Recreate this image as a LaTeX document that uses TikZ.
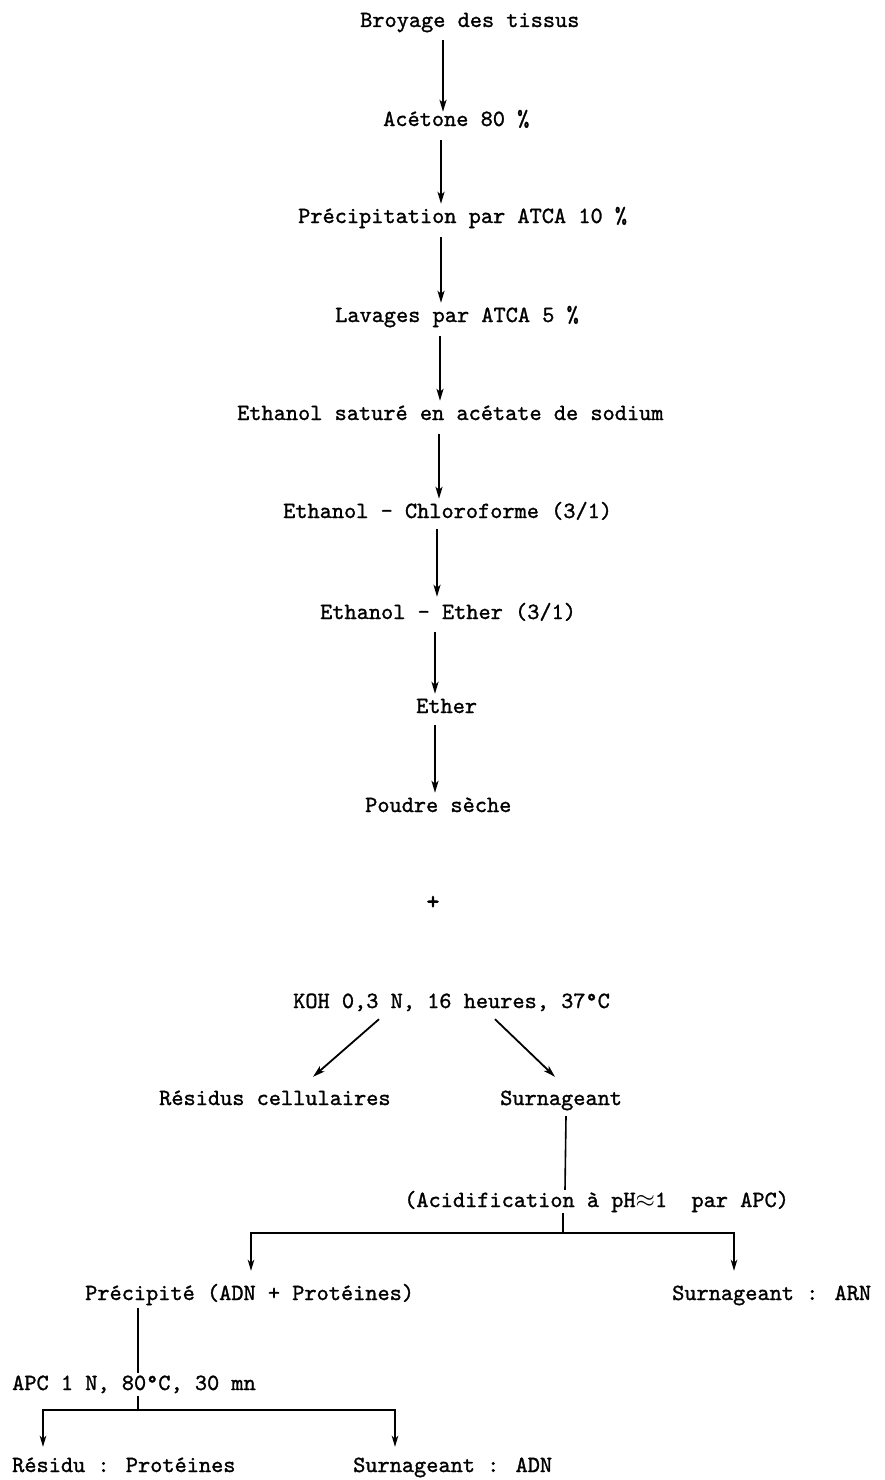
\documentclass[tikz,border=0pt]{standalone}
\usepackage{fontspec}
\newfontfamily\tw{lmmono10-regular.otf}[FakeBold=1.2]
\newfontfamily\twb{lmmono10-regular.otf}[FakeBold=3]
\usetikzlibrary{arrows.meta,calc}
\begin{document}
\begin{tikzpicture}[x=1pt,y=-1pt,
  lbl/.style={anchor=west,inner sep=0pt,text height=14pt,text depth=4pt,
    font=\tw\fontsize{23.2}{26}\selectfont},
  arr/.style={line width=1.8pt,-{Stealth[length=12pt,width=7pt,inset=3pt]},
    shorten <=10pt,shorten >=5pt},
  arrb/.style={line width=1.5pt,-{Stealth[length=11pt,width=6.5pt,inset=3pt]},
    shorten <=0pt},
  ln/.style={line width=1.6pt}]
\fill[white] (0,0) rectangle (884,1480);
\useasboundingbox (0,0) rectangle (884,1480);

% main sequence
\node[lbl] (n1) at (360,22) {Broyage des tissus};
\node[lbl] (n2) at (383,121) {Acétone 80 \%};
\node[lbl] (n3) at (298,218) {Précipitation par ATCA 10 \%};
\node[lbl] (n4) at (335,317) {Lavages par ATCA 5 \%};
\node[lbl] (n5) at (237,415) {Ethanol saturé en acétate de sodium};
\node[lbl] (n6) at (283,513) {Ethanol - Chloroforme (3/1)};
\node[lbl] (n7) at (320,614) {Ethanol - Ether (3/1)};
\node[lbl] (n8) at (416,708) {Ether};
\node[lbl] (n9) at (365,807) {Poudre sèche};
\node[lbl,anchor=center,font=\twb\fontsize{24}{26}\selectfont] (plus) at (433,904) {+};
\node[lbl] (koh) at (293,1003) {KOH 0,3 N, 16 heures, 37°C};
\node[lbl] (res) at (159,1100) {Résidus cellulaires};
\node[lbl] (sur) at (500,1100) {Surnageant};
\node[lbl] (acid) at (404,1202) {(Acidification à pH$\approx$1~~par APC)};
\node[lbl] (prec) at (85,1295) {Précipité (ADN + Protéines)};
\node[lbl] (arn) at (672,1295) {Surnageant : ARN};
\node[lbl] (apc) at (12,1385) {APC 1 N, 80°C, 30 mn};
\node[lbl] (rp) at (12,1467) {Résidu : Protéines};
\node[lbl] (adn) at (353,1467) {Surnageant : ADN};

% arrow columns
\coordinate (xa) at (443,0);
\coordinate (xb) at (441,0);
\coordinate (xc) at (440,0);
\coordinate (xd) at (439,0);
\coordinate (xe) at (437,0);
\coordinate (xf) at (435,0);
\coordinate (j1) at (563,1233);
\coordinate (j2) at (138,1410);

\draw[arr,shorten <=9pt,shorten >=0pt] (n1.south -| xa) -- (n2.north -| xa);
\draw[arr] (n2.south -| xb) -- (n3.north -| xb);
\draw[arr] (n3.south -| xb) -- (n4.north -| xb);
\draw[arr] (n4.south -| xc) -- (n5.north -| xc);
\draw[arr] (n5.south -| xd) -- (n6.north -| xd);
\draw[arr,shorten <=7pt,shorten >=8pt] (n6.south -| xe) -- (n7.north -| xe);
\draw[arr,shorten <=9pt] (n7.south -| xf) -- (n8.north -| xf);
\draw[arr,shorten <=8pt] (n8.south -| xf) -- (n9.north -| xf);

% KOH split
\draw[arr,shorten <=0pt,shorten >=0pt] ($(koh.south west)+(86,7)$) -- ($(res.north west)+(154,-14)$);
\draw[arr,shorten <=0pt,shorten >=0pt] ($(koh.south west)+(202,7)$) -- ($(sur.north west)+(55,-14)$);

% Surnageant -> acidification -> split
\draw[ln] ($(sur.south west)+(66,7)$) -- ($(acid.north west)+(161,-3)$);
\draw[ln,shorten <=2pt] (acid.south -| j1) -- (j1);
\draw[arrb,shorten >=15pt] (j1) -| ([xshift=166pt]prec.north west);
\draw[arrb,shorten >=15pt] (j1) -| ([xshift=62pt]arn.north west);

% Precipite -> APC -> split
\draw[ln,shorten <=4pt,shorten >=3pt] ([xshift=53pt]prec.south west) -- (apc.north -| j2);
\draw[ln,shorten <=2pt] (apc.south -| j2) -- (j2);
\draw[arrb,shorten >=11pt] (j2) -| ([xshift=31pt]rp.north west);
\draw[arrb,shorten >=11pt] (j2) -| ([xshift=42pt]adn.north west);
\end{tikzpicture}
\end{document}
